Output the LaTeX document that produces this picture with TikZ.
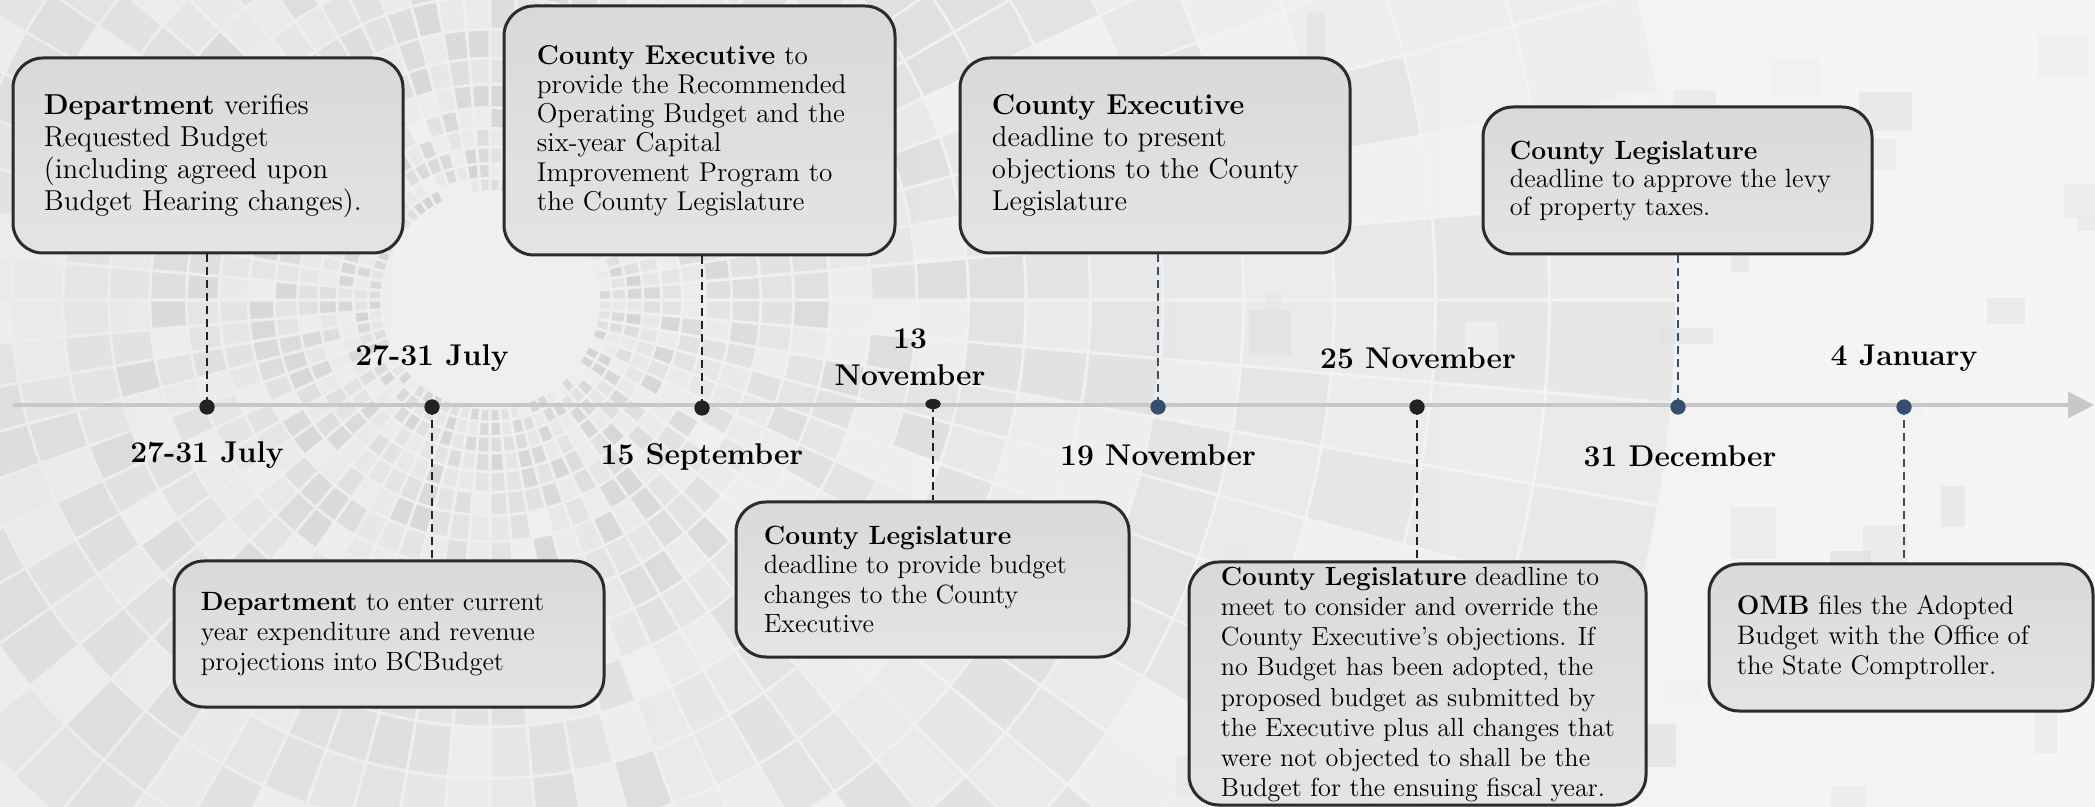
\documentclass[tikz,border=0pt]{standalone}
\usepackage{fontspec}
\usetikzlibrary{arrows.meta,shapes.geometric}
\definecolor{boxline}{HTML}{2B2B2B}
\definecolor{boxtop}{HTML}{D9D9D9}
\definecolor{boxbot}{HTML}{E4E4E4}
\definecolor{dotblack}{HTML}{222222}
\definecolor{dotblue}{HTML}{35506E}
\definecolor{tline}{HTML}{C8C8C8}
\definecolor{bgleft}{HTML}{EDEDED}
\definecolor{bgright}{HTML}{F5F5F5}
\begin{document}
\begin{tikzpicture}[x=0.5pt,y=-0.5pt,
  box/.style={draw=boxline, line width=1.5pt, rounded corners=15pt, top color=boxtop, bottom color=boxbot, inner sep=0pt},
  txt/.style={anchor=west, align=left, inner sep=0pt},
  datelbl/.style={font=\fontsize{15}{17}\selectfont\bfseries, align=center, inner sep=0pt},
  dotk/.style={circle, fill=dotblack, minimum size=7.5pt, inner sep=0pt},
  dotb/.style={circle, fill=dotblue, minimum size=7.5pt, inner sep=0pt},
  conk/.style={draw=dotblack, line width=1pt, dash pattern=on 4pt off 2.5pt},
  conb/.style={draw=dotblue, line width=1pt, dash pattern=on 4pt off 2.5pt}]
\useasboundingbox (0,0) rectangle (2095,807);
\shade[left color=bgleft, right color=bgright] (0,0) rectangle (2095,807);
% background tiles
\begin{scope}
\clip (0,0) rectangle (2095,807);
\pgfmathsetseed{12}
\foreach \i in {0,...,20}{
  \pgfmathsetmacro\ra{110*1.12^\i}
  \pgfmathsetmacro\rb{\ra*1.12-3}
  \pgfmathsetmacro\ga{1.5*57.3/\ra}
  \pgfmathsetmacro\op{0.8-0.025*\i}
  \foreach \j in {0,...,71}{
    \pgfmathsetmacro\a{\j*5+\ga}
    \pgfmathsetmacro\b{\j*5+5-\ga}
    \pgfmathsetmacro\sh{6+rnd*14}
    \fill[black!\sh, fill opacity=\op, shift={(490,300)}] (\a:\ra) arc[start angle=\a,end angle=\b,radius=\ra] -- (\b:\rb) arc[start angle=\b,end angle=\a,radius=\rb] -- cycle;
  }
}
\foreach \k in {1,...,45}{
  \pgfmathsetmacro\px{1150+rnd*945}
  \pgfmathsetmacro\py{rnd*807}
  \pgfmathsetmacro\pw{15+rnd*45}
  \pgfmathsetmacro\ph{15+rnd*40}
  \pgfmathsetmacro\sh{4+rnd*10}
  \fill[black!\sh, fill opacity=0.6] (\px,\py) rectangle ++(\pw,\ph);
}
\end{scope}
% timeline
\coordinate (tl0) at (13,405);
\coordinate (tl1) at (2094,405);
\draw[tline, line width=2pt, -{Triangle[length=13pt,width=13pt]}] (tl0) -- (tl1);
% dots
\node[dotk] (k1) at (207,407) {};
\node[dotk] (k2) at (432,407) {};
\node[dotk] (k3) at (702,408) {};
\node[ellipse, fill=dotblack, minimum width=7.5pt, minimum height=5pt, inner sep=0pt] (k4) at (933,404) {};
\node[dotb] (k5) at (1158,407) {};
\node[dotk] (k6) at (1417,407) {};
\node[dotb] (k7) at (1678,407) {};
\node[dotb] (k8) at (1904,407) {};
% date labels
\node[datelbl] (d1) at (207,455) {27-31 July};
\node[datelbl] (d2) at (432,358) {27-31 July};
\node[datelbl] (d3) at (702,457) {15 September};
\node[datelbl, font=\fontsize{15}{18.5}\selectfont\bfseries] (d4) at (910,357) {13\\November};
\node[datelbl] (d5) at (1158,455) {19 November};
\node[datelbl] (d6) at (1418,358) {25 November};
\node[datelbl] (d7) at (1680,456) {31 December};
\node[datelbl] (d8) at (1904,358) {4 January};
% boxes
\node[box, minimum width=195pt, minimum height=97.5pt] (b1) at (208,155.5) {};
\node[box, minimum width=195.5pt, minimum height=124.5pt] (b2) at (699.5,130.5) {};
\node[box, minimum width=195pt, minimum height=97.5pt] (b3) at (1155,155.5) {};
\node[box, minimum width=194.5pt, minimum height=73.5pt] (b4) at (1677.5,180.5) {};
\node[box, minimum width=215pt, minimum height=73pt] (b5) at (389,634) {};
\node[box, minimum width=196.5pt, minimum height=77.5pt] (b6) at (932.5,579.5) {};
\node[box, minimum width=228.5pt, minimum height=121.5pt] (b7) at (1417.5,683.5) {};
\node[box, minimum width=192pt, minimum height=73.5pt] (b8) at (1901,637.5) {};
% box texts
\node[txt, font=\fontsize{14.4}{16}\selectfont] (t1) at ([xshift=16pt]b1.west) {\textbf{Department} verifies\\Requested Budget\\(including agreed upon\\Budget Hearing changes).};
\node[txt, font=\fontsize{13.6}{14.6}\selectfont] (t2) at ([xshift=17pt]b2.west) {\textbf{County Executive} to\\provide the Recommended\\Operating Budget and the\\six-year Capital\\Improvement Program to\\the County Legislature};
\node[txt, font=\fontsize{14.4}{16}\selectfont] (t3) at ([xshift=16.5pt]b3.west) {\textbf{County Executive}\\deadline to present\\objections to the County\\Legislature};
\node[txt, font=\fontsize{13.2}{14}\selectfont] (t4) at ([xshift=14pt]b4.west) {\textbf{County Legislature}\\deadline to approve the levy\\of property taxes.};
\node[txt, font=\fontsize{13.2}{15}\selectfont] (t5) at ([xshift=14pt]b5.west) {\textbf{Department} to enter current\\year expenditure and revenue\\projections into BCBudget};
\node[txt, font=\fontsize{13.2}{14.75}\selectfont] (t6) at ([xshift=14.5pt]b6.west) {\textbf{County Legislature}\\deadline to provide budget\\changes to the County\\Executive};
\node[txt, font=\fontsize{13.1}{15.1}\selectfont] (t7) at ([xshift=16.5pt,yshift=-0.5pt]b7.west) {\textbf{County Legislature} deadline to\\meet to consider and override the\\County Executive's objections. If\\no Budget has been adopted, the\\proposed budget as submitted by\\the Executive plus all changes that\\were not objected to shall be the\\Budget for the ensuing fiscal year.};
\node[txt, font=\fontsize{13.4}{15}\selectfont] (t8) at ([xshift=14.5pt]b8.west) {\textbf{OMB} files the Adopted\\Budget with the Office of\\the State Comptroller.};
% connectors
\draw[conk] (k1 |- b1.south) -- (k1.center);
\draw[conk] (k2.center) -- (k2 |- b5.north);
\draw[conk] (k3 |- b2.south) -- (k3.center);
\draw[conk] (k4.center) -- (k4 |- b6.north);
\draw[conb] (k5 |- b3.south) -- (k5.center);
\draw[conk] (k6.center) -- (k6 |- b7.north);
\draw[conb] (k7 |- b4.south) -- (k7.center);
\draw[conb] (k8.center) -- (k8 |- b8.north);
% redraw dots on top of connectors
\node[dotk] at (k1) {};
\node[dotk] at (k2) {};
\node[dotk] at (k3) {};
\node[ellipse, fill=dotblack, minimum width=7.5pt, minimum height=5pt, inner sep=0pt] at (k4) {};
\node[dotb] at (k5) {};
\node[dotk] at (k6) {};
\node[dotb] at (k7) {};
\node[dotb] at (k8) {};
\end{tikzpicture}
\end{document}
